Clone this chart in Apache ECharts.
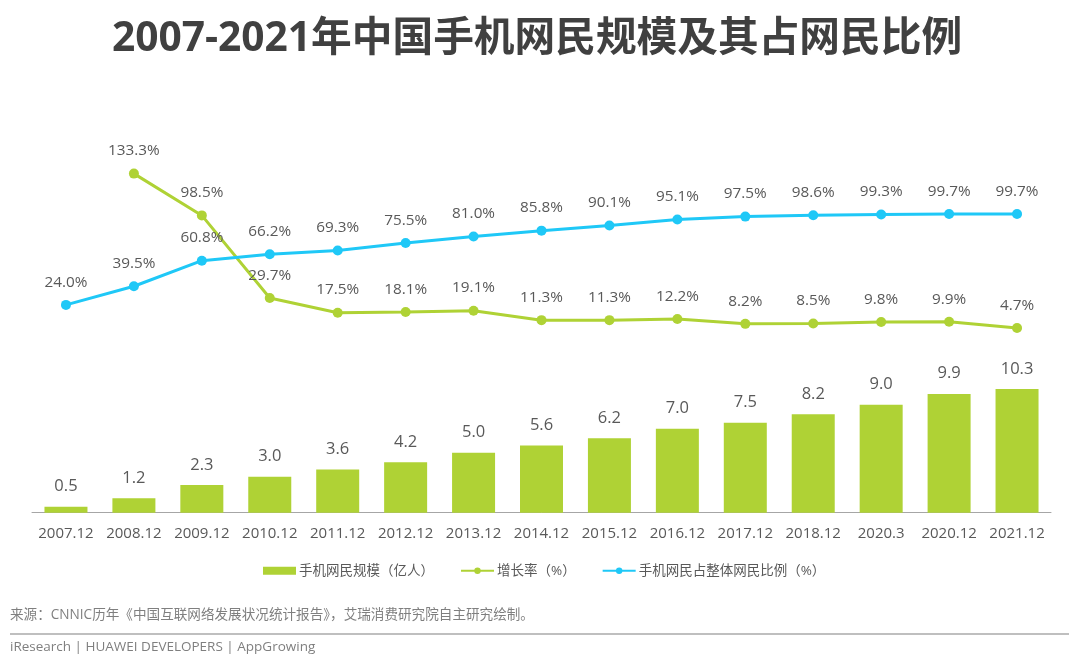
<!DOCTYPE html>
<html lang="zh">
<head>
  <meta charset="UTF-8">
  <title>2007-2021年中国手机网民规模及其占网民比例</title>
  <script src="https://cdn.jsdelivr.net/npm/echarts@6/dist/echarts.min.js"></script>
  <style>
    html, body { margin: 0; padding: 0; background: #fff; }
    #main { width: 1080px; height: 670px; }
  </style>
</head>
<body>
  <div id="main"></div>
<script>
  var categories = ['2007.12', '2008.12', '2009.12', '2010.12', '2011.12', '2012.12', '2013.12', '2014.12',
    '2015.12', '2016.12', '2017.12', '2018.12', '2020.3', '2020.12', '2021.12'];
  var users = [0.5, 1.2, 2.3, 3.0, 3.6, 4.2, 5.0, 5.6, 6.2, 7.0, 7.5, 8.2, 9.0, 9.9, 10.3];
  var growth = [null, 133.3, 98.5, 29.7, 17.5, 18.1, 19.1, 11.3, 11.3, 12.2, 8.2, 8.5, 9.8, 9.9, 4.7];
  var share = [24.0, 39.5, 60.8, 66.2, 69.3, 75.5, 81.0, 85.8, 90.1, 95.1, 97.5, 98.6, 99.3, 99.7, 99.7];

  var FONT = '"Open Sans", "Noto Sans CJK SC", sans-serif';
  var GREEN = '#afd235';
  var BLUE = '#1fc8f7';
  var TEXT = '#595959';

  function pct(p) {
    return p.value.toFixed(1) + '%';
  }

  function lineSeries(name, data, color) {
    return {
      name: name,
      type: 'line',
      yAxisIndex: 1,
      data: data,
      symbol: 'circle',
      symbolSize: 10,
      itemStyle: { color: color },
      lineStyle: { color: color, width: 3 },
      label: { show: true, position: 'top', distance: 10, formatter: pct, color: TEXT, fontSize: 15.3, fontFamily: FONT }
    };
  }

  var chart = echarts.init(document.getElementById('main'), null, { renderer: 'canvas' });
  chart.setOption({
    backgroundColor: '#fff',
    animation: false,
    textStyle: { fontFamily: FONT },
    title: {
      text: '2007-2021年中国手机网民规模及其占网民比例',
      left: 532,
      top: 14,
      textAlign: 'center',
      textStyle: { fontSize: 40.7, fontWeight: 'bold', color: '#404040', fontFamily: FONT }
    },
    legend: {
      left: 258,
      top: 559,
      itemGap: 26,
      itemWidth: 33,
      itemHeight: 8,
      textStyle: { fontSize: 13.5, color: TEXT, fontFamily: FONT, padding: [0, 0, 0, -2] },
      data: [
        { name: '手机网民规模（亿人）', icon: 'rect' },
        { name: '增长率（%）' },
        { name: '手机网民占整体网民比例（%）' }
      ]
    },
    grid: { left: 32, top: 112.7, width: 1019, height: 400 },
    xAxis: {
      type: 'category',
      data: categories,
      axisTick: { show: false },
      axisLine: { lineStyle: { color: '#a6a6a6', width: 1 } },
      axisLabel: { interval: 0, margin: 14, color: TEXT, fontSize: 15, fontFamily: FONT }
    },
    yAxis: [
      { type: 'value', min: 0, max: 33.33, show: false, splitLine: { show: false } },
      { type: 'value', min: -149, max: 184, show: false, splitLine: { show: false } }
    ],
    series: [
      {
        name: '手机网民规模（亿人）',
        type: 'bar',
        barWidth: 43,
        data: users,
        itemStyle: { color: GREEN },
        label: {
          show: true, position: 'top', distance: 12,
          formatter: function (p) { return p.value.toFixed(1); },
          color: TEXT, fontSize: 16.5, fontFamily: FONT
        }
      },
      lineSeries('增长率（%）', growth, GREEN),
      lineSeries('手机网民占整体网民比例（%）', share, BLUE)
    ],
    graphic: [
      { type: 'text', left: 10, top: 608, style: { text: '来源：CNNIC历年《中国互联网络发展状况统计报告》，艾瑞消费研究院自主研究绘制。', fill: '#7f7f7f', fontSize: 13.6, fontFamily: FONT } },
      { type: 'rect', left: 10, top: 633, shape: { width: 1059, height: 2 }, style: { fill: '#bfbfbf' } },
      { type: 'text', left: 10, top: 640, style: { text: 'iResearch | HUAWEI DEVELOPERS | AppGrowing', fill: '#7f7f7f', fontSize: 13.5, fontFamily: FONT } }
    ]
  });
</script>
</body>
</html>
